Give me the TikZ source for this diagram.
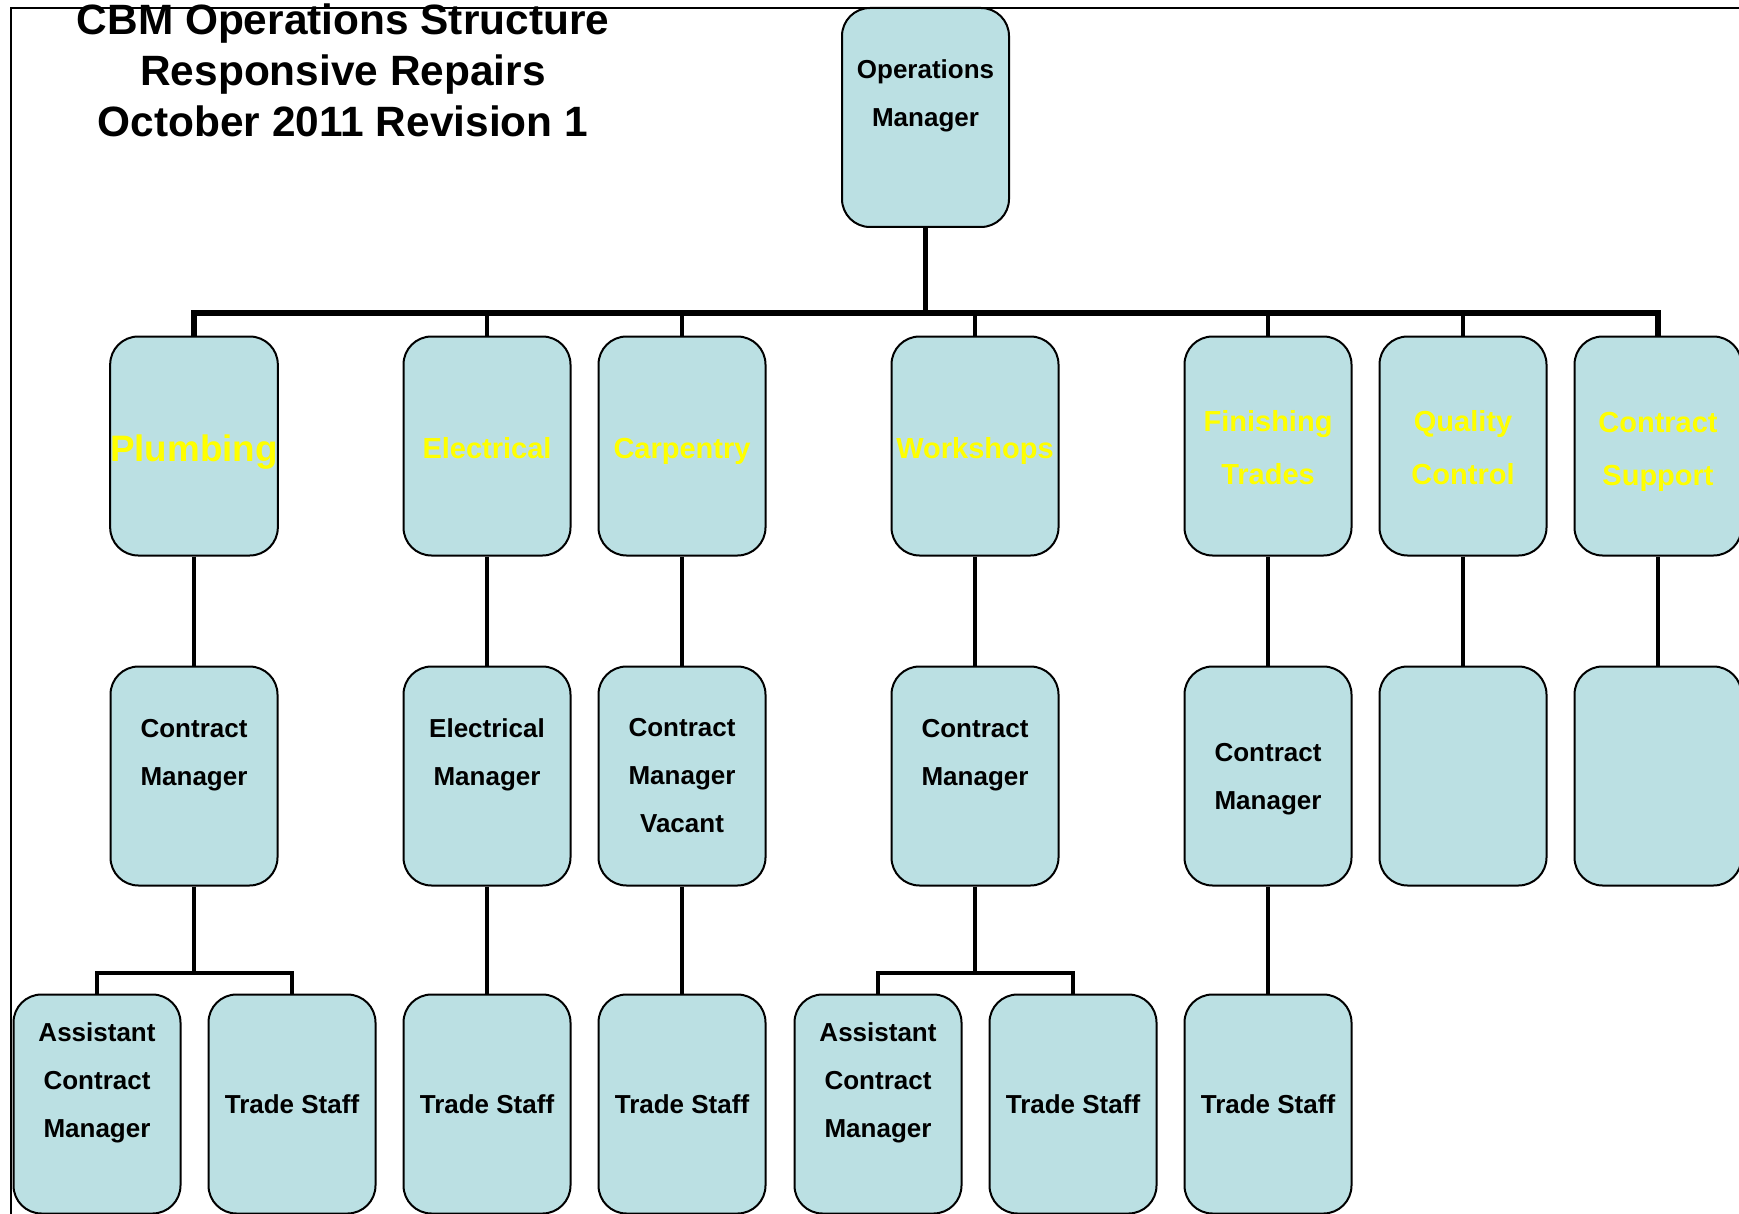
\documentclass[tikz,border=0pt]{standalone}
\usepackage{fontspec}
\setmainfont{Liberation Sans}
\definecolor{boxfill}{RGB}{187,224,227}
\definecolor{tradeyellow}{RGB}{255,255,0}

\begin{document}
\begin{tikzpicture}[x=0.5pt,y=-0.5pt,
  unit/.style={draw=black, line width=1pt, fill=boxfill, rounded corners=14pt,
    minimum width=83.5pt, minimum height=109.5pt, inner sep=0pt, align=center,
    font=\fontsize{13}{24}\selectfont\bfseries},
  trade/.style={unit, text=tradeyellow, font=\fontsize{14.5}{26.5}\selectfont\bfseries},
  oneline/.style={text height=12.6pt, text depth=0pt},
  conn/.style={line width=2pt, line join=miter},
  busline/.style={line width=2.6pt, line join=miter}]

% canvas and frame
\path[use as bounding box, fill=white] (0,0) rectangle (1739,1214);
\draw[line width=1pt] (11,1214) -- (11,8) -- (1739,8);

% title
\node[align=center, inner sep=0pt, font=\fontsize{21.2}{25.5}\selectfont\bfseries]
  (title) at (343,70.5) {CBM Operations Structure\\Responsive Repairs\\October 2011 Revision 1};

% top level
\node[unit] (om) at (925.5,117.5) {Operations\\Manager\\~};

% trade sections
\node[trade, oneline, text height=15.4pt, font=\fontsize{18.4}{26.5}\selectfont\bfseries] (plumb) at (194,446) {Plumbing};
\node[trade, oneline] (elec)  at (487,446)  {Electrical};
\node[trade, oneline] (carp)  at (682,446)  {Carpentry};
\node[trade, oneline] (work)  at (975,446)  {Workshops};
\node[trade] (fin)   at (1268,446) {\rule{0pt}{12.6pt}Finishing\\Trades};
\node[trade] (qual)  at (1463,446) {\rule{0pt}{12.6pt}Quality\\Control};
\node[trade] (csup)  at (1658,446) {\rule{0pt}{15.6pt}Contract\\Support};

% managers
\node[unit] (pcm) at (194,776)  {Contract\\Manager\\~};
\node[unit] (ecm) at (487,776)  {Electrical\\Manager\\~};
\node[unit] (ccm) at (682,776)  {Contract\\Manager\\Vacant};
\node[unit] (wcm) at (975,776)  {Contract\\Manager\\~};
\node[unit] (fcm) at (1268,776) {\rule{0pt}{12.7pt}Contract\\Manager};
\node[unit] (qcm) at (1463,776) {};
\node[unit] (scm) at (1658,776) {};

% staff
\node[unit] (pacm) at (97,1104)   {Assistant\\Contract\\Manager\\~};
\node[unit] (pts)  at (292,1104)  {Trade Staff};
\node[unit] (ets)  at (487,1104)  {Trade Staff};
\node[unit] (cts)  at (682,1104)  {Trade Staff};
\node[unit] (wacm) at (878,1104)  {Assistant\\Contract\\Manager\\~};
\node[unit] (wts)  at (1073,1104) {Trade Staff};
\node[unit] (fts)  at (1268,1104) {Trade Staff};

% bus levels
\coordinate (bus) at (0,313);
\coordinate (pbus) at (0,973);

% operations manager to sections
\draw[busline] (om.south) -- (om.south |- bus);
\draw[busline] (plumb.north) -- (plumb.north |- bus) -- (csup.north |- bus) -- (csup.north);
\foreach \n in {elec,carp,work,fin,qual}
  \draw[conn] (\n.north) -- (\n.north |- bus);

% sections to managers
\foreach \a/\b in {plumb/pcm,elec/ecm,carp/ccm,work/wcm,fin/fcm,qual/qcm,csup/scm}
  \draw[conn] (\a.south) -- (\b.north);

% managers to staff
\draw[conn] (pcm.south) -- (pcm.south |- pbus);
\draw[conn] (pacm.north) -- (pacm.north |- pbus) -- (pts.north |- pbus) -- (pts.north);
\draw[conn] (wcm.south) -- (wcm.south |- pbus);
\draw[conn] (wacm.north) -- (wacm.north |- pbus) -- (wts.north |- pbus) -- (wts.north);
\draw[conn] (ecm.south) -- (ets.north);
\draw[conn] (ccm.south) -- (cts.north);
\draw[conn] (fcm.south) -- (fts.north);
\end{tikzpicture}
\end{document}
